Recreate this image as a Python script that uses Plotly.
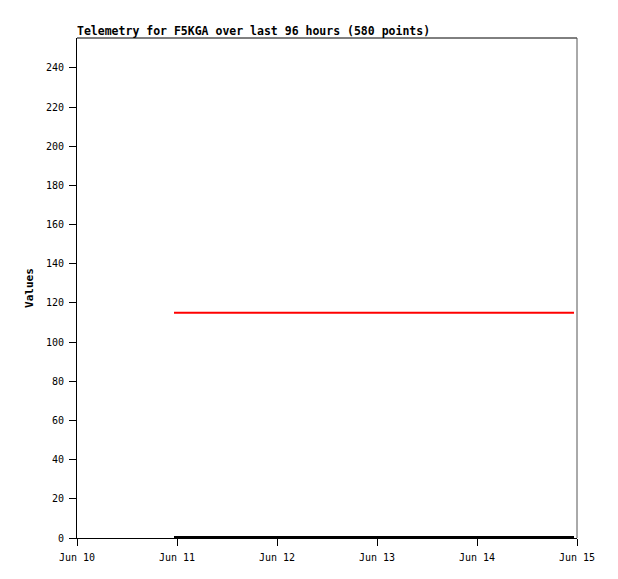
import plotly.graph_objects as go

times = ["2024-06-10 23:17", "2024-06-11 12:00", "2024-06-12 12:00", "2024-06-13 12:00", "2024-06-14 23:17"]
red_values = [115, 115, 115, 115, 115]
black_values = [0.4, 0.4, 0.4, 0.4, 0.4]
x_ticks = ["2024-06-10", "2024-06-11", "2024-06-12", "2024-06-13", "2024-06-14", "2024-06-15"]
x_tick_labels = ["Jun 10", "Jun 11", "Jun 12", "Jun 13", "Jun 14", "Jun 15"]
y_ticks = list(range(0, 241, 20))

font = "DejaVu Sans Mono"

fig = go.Figure()
fig.add_trace(go.Scatter(x=times, y=red_values, mode="lines",
                         line=dict(color="#ff0000", width=2), showlegend=False))
fig.add_trace(go.Scatter(x=times, y=black_values, mode="lines",
                         line=dict(color="#000000", width=2.5), showlegend=False))

W, H = 618, 579
fig.update_layout(
    width=W, height=H,
    margin=dict(l=69, r=49, t=30, b=49),
    paper_bgcolor="white", plot_bgcolor="white",
    font=dict(family=font, size=10, color="black"),
    title=dict(text="<b>Telemetry for F5KGA over last 96 hours (580 points)</b>",
               x=69/W, xanchor="left", y=1-23/H, yanchor="middle",
               font=dict(family=font, size=11.5, color="black")),
    xaxis=dict(range=["2024-06-10", "2024-06-15"], tickvals=x_ticks, ticktext=x_tick_labels,
               showgrid=False, zeroline=False, showline=True, linecolor="black", linewidth=1,
               mirror=False, ticks="outside", ticklen=7, tickcolor="black", tickwidth=1,
               ticklabelstandoff=3, tickfont=dict(family=font, size=10)),
    yaxis=dict(range=[0, 255.3], tickvals=y_ticks, showgrid=False, zeroline=False,
               showline=True, linecolor="black", linewidth=1, ticks="outside", ticklen=7,
               tickcolor="black", tickwidth=1, ticklabelstandoff=3, tickfont=dict(family=font, size=10),
               title=dict(text="<b>Values</b>", font=dict(family=font, size=11), standoff=10)),
)
# top and right borders
fig.add_shape(type="line", xref="paper", yref="paper", x0=0, x1=1, y0=1, y1=1,
              line=dict(color="black", width=1))
fig.add_shape(type="line", xref="paper", yref="paper", x0=1, x1=1, y0=0, y1=1,
              line=dict(color="#555555", width=1))

fig.write_html("out.html")
